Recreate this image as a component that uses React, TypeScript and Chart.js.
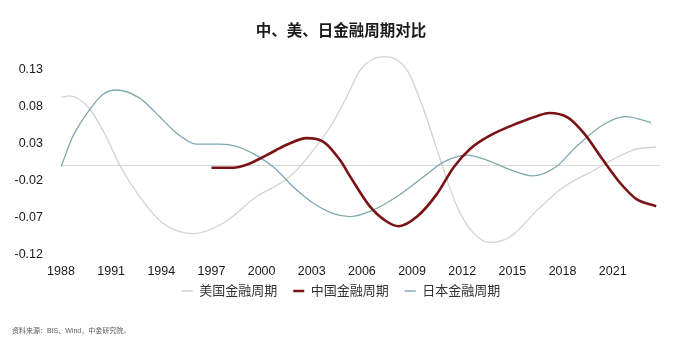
import React, { useEffect, useRef } from "react";
import { Chart, registerables } from "chart.js";

Chart.register(...registerables);

const chartTitle = "中、美、日金融周期对比";
const sourceNote = "资料来源：BIS、Wind，中金研究院。";
const seriesNames = ["美国金融周期", "中国金融周期", "日本金融周期"];
const seriesColors = ["#d2d2ce", "#7b1215", "#7fa8b2"];
const seriesWidths = [1.3, 2.6, 1.3];

const xTickYears = [1988, 1991, 1994, 1997, 2000, 2003, 2006, 2009, 2012, 2015, 2018, 2021];
const yTickValues = [-0.12, -0.07, -0.02, 0.03, 0.08, 0.13];

const usYears = [1988.0, 1988.5, 1989.7, 1990.7, 1991.5, 1992.7, 1994.1, 1995.9, 1997.7, 1999.7, 2001.7, 2003.1, 2004.1, 2005.1, 2005.9, 2007.3, 2008.7, 2009.7, 2010.7, 2011.7, 2012.7, 2013.7, 2014.9, 2016.5, 2018.0, 2020.0, 2021.0, 2022.4, 2023.6];
const usValues = [0.092, 0.094, 0.077, 0.039, 0.001, -0.042, -0.078, -0.092, -0.078, -0.042, -0.015, 0.021, 0.052, 0.093, 0.129, 0.147, 0.129, 0.075, 0.007, -0.056, -0.092, -0.104, -0.096, -0.06, -0.03, -0.005, 0.008, 0.022, 0.025];

const cnYears = [1997.0, 1998.3, 1999.1, 2000.3, 2001.5, 2002.7, 2003.7, 2004.7, 2005.3, 2006.5, 2007.5, 2008.2, 2009.3, 2010.5, 2011.5, 2012.5, 2013.7, 2015.3, 2016.5, 2017.2, 2018.3, 2019.3, 2020.4, 2021.5, 2022.4, 2023.6];
const cnValues = [-0.003, -0.003, 0.001, 0.014, 0.028, 0.037, 0.032, 0.007, -0.015, -0.056, -0.076, -0.082, -0.069, -0.038, -0.002, 0.023, 0.041, 0.057, 0.067, 0.071, 0.065, 0.043, 0.008, -0.025, -0.045, -0.055];

const jpYears = [1988.0, 1988.7, 1989.7, 1990.5, 1991.3, 1992.7, 1993.9, 1994.9, 1996.1, 1997.5, 1998.5, 1999.5, 2000.7, 2001.9, 2003.1, 2004.3, 2005.3, 2006.7, 2008.1, 2009.7, 2010.9, 2012.3, 2013.5, 2014.9, 2016.2, 2017.6, 2018.8, 2020.5, 2021.8, 2023.3];
const jpValues = [-0.002, 0.039, 0.075, 0.096, 0.102, 0.091, 0.066, 0.044, 0.029, 0.029, 0.026, 0.016, -0.002, -0.029, -0.051, -0.065, -0.069, -0.06, -0.042, -0.015, 0.005, 0.014, 0.007, -0.006, -0.014, -0.002, 0.025, 0.056, 0.066, 0.058];

const FONT = '"Liberation Sans", "Noto Sans CJK SC", sans-serif';

const zeroLinePlugin = {
  id: "zeroLine",
  beforeDatasetsDraw(chart: any) {
    const { ctx, chartArea, scales } = chart;
    const py = scales.y.getPixelForValue(0);
    ctx.save();
    ctx.strokeStyle = "#d9d9d9";
    ctx.lineWidth = 1;
    ctx.beginPath();
    ctx.moveTo(chartArea.left, py);
    ctx.lineTo(chartArea.right, py);
    ctx.stroke();
    ctx.restore();
  },
};

const sourcePlugin = {
  id: "sourceNote",
  afterDraw(chart: any) {
    const { ctx } = chart;
    ctx.save();
    ctx.font = `7px ${FONT}`;
    ctx.fillStyle = "#5a5a5a";
    ctx.textAlign = "left";
    ctx.textBaseline = "middle";
    ctx.fillText(sourceNote, 12, 331);
    ctx.restore();
  },
};

function toPoints(xs: number[], ys: number[]) {
  return xs.map((x, i) => ({ x, y: ys[i] }));
}

export default function App() {
  const canvasRef = useRef<HTMLCanvasElement | null>(null);

  useEffect(() => {
    if (!canvasRef.current) return;
    const seriesData = [toPoints(usYears, usValues), toPoints(cnYears, cnValues), toPoints(jpYears, jpValues)];
    const drawOrder = [2, 0, 1];
    const chart = new Chart(canvasRef.current, {
      type: "line",
      data: {
        datasets: seriesNames.map((name, i) => ({
          label: name,
          data: seriesData[i],
          borderColor: seriesColors[i],
          backgroundColor: seriesColors[i],
          borderWidth: seriesWidths[i],
          pointRadius: 0,
          pointHoverRadius: 0,
          cubicInterpolationMode: "monotone" as const,
          fill: false,
          order: drawOrder[i],
        })),
      },
      options: {
        animation: false,
        responsive: false,
        devicePixelRatio: 1,
        layout: { padding: { left: 22, right: 17, top: 0, bottom: 43.5 } },
        plugins: {
          title: {
            display: true,
            text: chartTitle,
            color: "#1a1a1a",
            font: { family: FONT, size: 15.5, weight: "bold", lineHeight: 1.2 },
            padding: { top: 22.4, bottom: 6.1 },
          },
          legend: {
            display: true,
            position: "bottom",
            labels: {
              color: "#333333",
              font: { family: FONT, size: 13 },
              boxWidth: 11,
              boxHeight: 0,
              padding: 16,
              sort: (a: any, b: any) => a.datasetIndex - b.datasetIndex,
            },
          },
          tooltip: { enabled: false },
        },
        scales: {
          x: {
            type: "linear",
            min: 1988,
            max: 2023.83,
            grid: { display: false, drawTicks: false },
            border: { display: false },
            afterBuildTicks: (scale: any) => {
              scale.ticks = xTickYears.map((v) => ({ value: v }));
            },
            afterFit: (scale: any) => {
              scale.height = 14.2;
              scale._computeLabelArea = () => undefined;
            },
            ticks: {
              color: "#1a1a1a",
              font: { family: FONT, size: 12.5 },
              padding: 10,
              maxRotation: 0,
              autoSkip: false,
              callback: (v: any) => String(v),
            },
          },
          y: {
            type: "linear",
            min: -0.12,
            max: 0.16,
            grid: { display: false, drawTicks: false },
            border: { display: false },
            afterBuildTicks: (scale: any) => {
              scale.ticks = yTickValues.map((v) => ({ value: v }));
            },
            afterFit: (scale: any) => {
              scale.width = 39;
              scale._computeLabelArea = () => undefined;
            },
            ticks: {
              color: "#1a1a1a",
              font: { family: FONT, size: 12.5 },
              padding: 18,
              autoSkip: false,
              callback: (v: any) => Number(v).toFixed(2),
            },
          },
        },
      },
      plugins: [zeroLinePlugin, sourcePlugin],
    });
    return () => chart.destroy();
  }, []);

  return (
    <div style={{ position: "fixed", left: 0, top: 0, width: 677, height: 351, background: "#ffffff" }}>
      <canvas ref={canvasRef} width={677} height={351} style={{ display: "block" }} />
    </div>
  );
}
